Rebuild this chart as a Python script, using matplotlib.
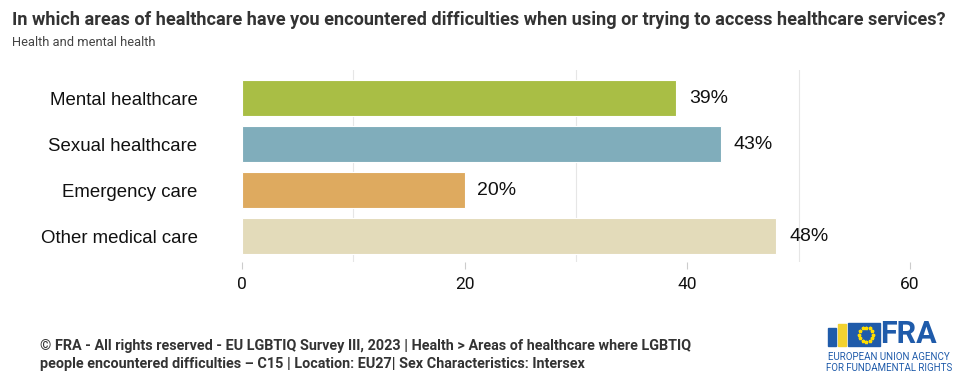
import matplotlib
matplotlib.use("Agg")
import matplotlib.pyplot as plt
import numpy as np

categories = ["Mental healthcare", "Sexual healthcare", "Emergency care", "Other medical care"]
values = [39, 43, 20, 48]
colors = ["#A9BE45", "#80ADBB", "#DEAA5F", "#E3DBBA"]
xticks = [0, 20, 40, 60]
minor_grid = [10, 30, 50]

title = "In which areas of healthcare have you encountered difficulties when using or trying to access healthcare services?"
subtitle = "Health and mental health"
footnote = ("\u00a9 FRA - All rights reserved - EU LGBTIQ Survey III, 2023 | Health > Areas of healthcare where LGBTIQ\n"
            "people encountered difficulties \u2013 C15 | Location: EU27| Sex Characteristics: Intersex")

narrow = "Roboto"
main = "Liberation Sans"

W, H = 972, 387
fig = plt.figure(figsize=(W / 100, H / 100), dpi=100)
ax = fig.add_axes([242 / W, 1 - 262 / H, 668 / W, 192 / H])

y = list(range(len(categories)))
ax.barh(y, values, height=0.78, color=colors, edgecolor="#FFFFFF", linewidth=0.8, zorder=3)
ax.set_ylim(3.56, -0.61)
ax.set_xlim(0, 60)
for g in minor_grid:
    ax.axvline(g, color="#E6E6E6", linewidth=0.8, zorder=1)
for yi, v in zip(y, values):
    ax.text(v + 1.15, yi, f"{v}%", va="center", ha="left", fontsize=14,
            family=main, color="#111111")
ax.set_yticks(y)
ax.set_yticklabels(categories, fontsize=13.4, family=main, color="#111111")
ax.tick_params(axis="y", length=0, pad=32)
ax.set_xticks(xticks)
ax.set_xticklabels([str(t) for t in xticks], fontsize=12.5, family=narrow, color="#111111")
ax.tick_params(axis="x", length=5, color="#CCCCCC", pad=6, width=0.8)
for s in ax.spines.values():
    s.set_visible(False)

fig.text(12 / W, 1 - 20 / H, title, fontsize=13.1, fontweight="bold", family=narrow,
         color="#333333", va="center", ha="left")
fig.text(12 / W, 1 - 43 / H, subtitle, fontsize=9.3, family=narrow, color="#444444",
         va="center", ha="left")
fig.text(40 / W, 1 - 355 / H, footnote, fontsize=10.4, fontweight="semibold", family=narrow,
         color="#333333", va="center", ha="left", linespacing=1.35)

# Logo
blue = "#1F5BAA"
fig.text(880 / W, 1 - 334 / H, "FRA", fontsize=22, fontweight="bold", family=narrow,
         color=blue, va="center", ha="left")
fig.patches.append(plt.Rectangle((848 / W, 1 - 346 / H), 32 / W, 23 / H,
                                 transform=fig.transFigure, color=blue))
ang = np.linspace(0, 2 * np.pi, 12, endpoint=False)
fig.lines.append(plt.Line2D((866 + 7 * np.cos(ang)) / W, (1 - 334.5 / H) + 7 * np.sin(ang) / H,
                            transform=fig.transFigure, linestyle="none", marker="*",
                            markersize=2.5, color="#FFDD00"))
fig.patches.append(plt.Rectangle((838 / W, 1 - 346 / H), 8 / W, 22 / H,
                                 transform=fig.transFigure, color="#F2D230"))
fig.patches.append(plt.Rectangle((828 / W, 1 - 346 / H), 8 / W, 18 / H,
                                 transform=fig.transFigure, color=blue))
fig.text(889 / W, 1 - 362.5 / H, "EUROPEAN UNION AGENCY\nFOR FUNDAMENTAL RIGHTS", fontsize=7,
         family=narrow, color=blue, va="center", ha="center", linespacing=1.05)

fig.savefig("out.png", dpi=100, facecolor="white")
